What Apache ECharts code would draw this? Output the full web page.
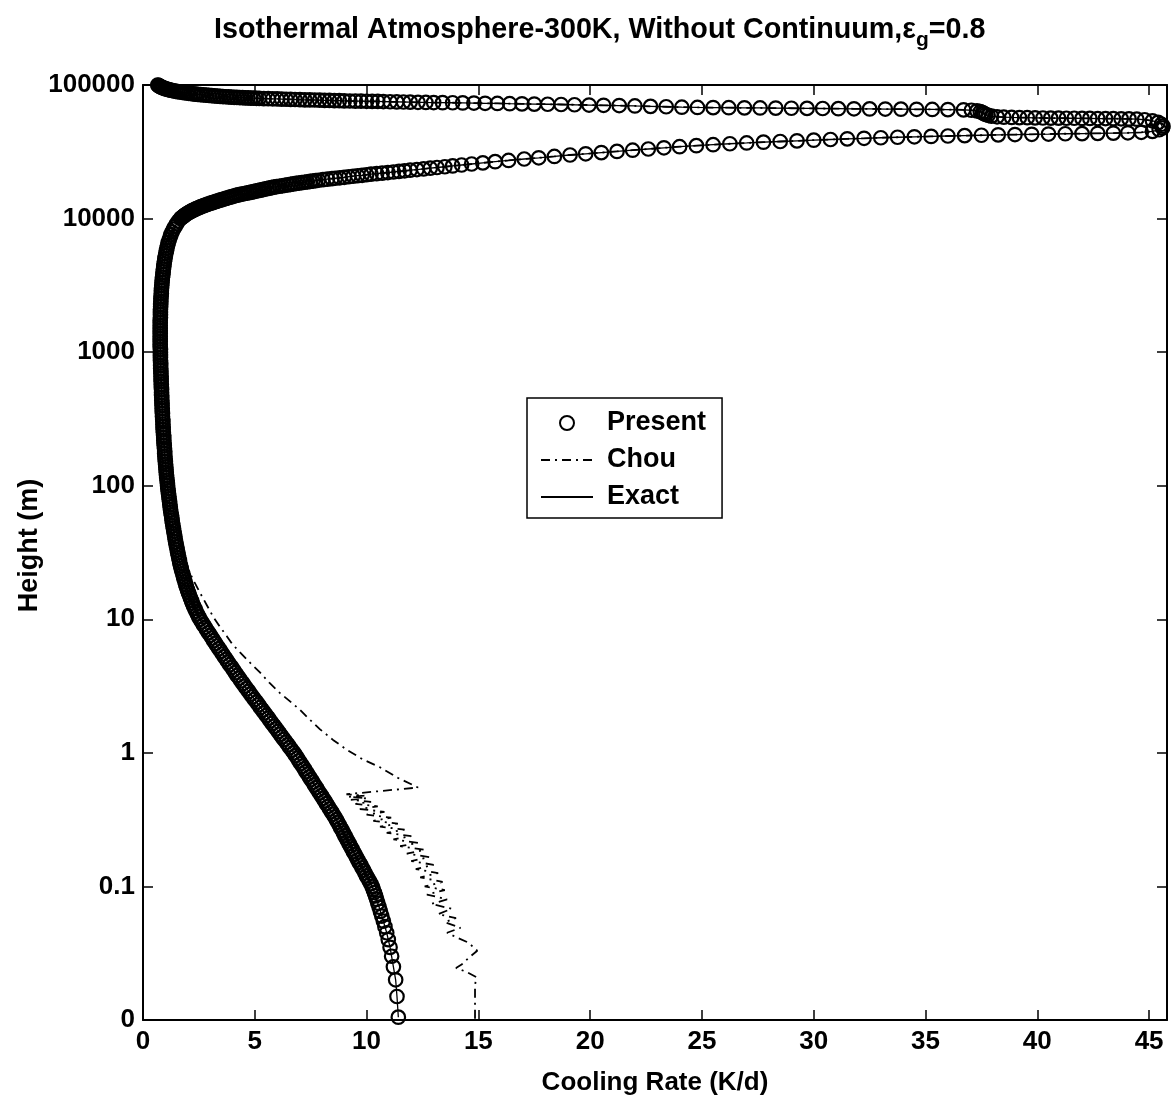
<!DOCTYPE html>
<html>
<head>
<meta charset="utf-8">
<title>Isothermal Atmosphere - Cooling Rate Profile</title>
<script src="https://cdn.jsdelivr.net/npm/echarts@6/dist/echarts.min.js"></script>
<style>
  html, body { margin: 0; padding: 0; background: #fff; }
  #chart { width: 1171px; height: 1101px; }
</style>
</head>
<body>
<div id="chart"></div>
<script>
// ---- Data: [cooling rate (K/d), height (m)] ----

// "Present" profile, closest to the surface
const surfaceRows = [
  [11.42,0.0105],[11.36,0.015],[11.30,0.02],[11.2,0.025],[11.12,0.03],[11.05,0.035],[10.97,0.04],
  [10.9,0.045],[10.82,0.05],[10.75,0.055],[10.68,0.06],[10.62,0.065],[10.56,0.07],[10.5,0.075],
  [10.45,0.08],[10.4,0.085],[10.35,0.09],[10.3,0.095],[10.25,0.1]
];

// "Present" profile from 0.1 m to 10 km
const lowerProfile = [
  [10.19,0.105],[10.12,0.11],[10.06,0.115],[9.99,0.12],[9.93,0.126],[9.87,0.132],[9.80,0.138],[9.74,0.145],[9.67,0.151],[9.61,0.158],
  [9.54,0.166],[9.48,0.174],[9.41,0.182],[9.35,0.191],[9.28,0.2],[9.22,0.209],[9.16,0.219],[9.09,0.229],[9.03,0.24],[8.97,0.251],
  [8.91,0.263],[8.84,0.275],[8.78,0.288],[8.71,0.302],[8.65,0.316],[8.58,0.331],[8.50,0.347],[8.43,0.363],[8.35,0.38],[8.28,0.398],
  [8.20,0.417],[8.13,0.437],[8.05,0.457],[7.98,0.479],[7.90,0.501],[7.82,0.525],[7.75,0.55],[7.67,0.575],[7.60,0.603],[7.52,0.631],
  [7.44,0.661],[7.37,0.692],[7.29,0.724],[7.22,0.759],[7.14,0.794],[7.06,0.832],[6.98,0.871],[6.91,0.912],[6.83,0.955],[6.75,1.0],
  [6.66,1.047],[6.57,1.096],[6.49,1.148],[6.40,1.202],[6.31,1.259],[6.22,1.318],[6.13,1.38],[6.05,1.445],[5.96,1.514],[5.87,1.585],
  [5.78,1.66],[5.69,1.738],[5.61,1.82],[5.52,1.905],[5.43,1.995],[5.34,2.089],[5.25,2.188],[5.17,2.291],[5.08,2.399],[4.99,2.512],
  [4.90,2.63],[4.81,2.754],[4.73,2.884],[4.64,3.02],[4.55,3.162],[4.47,3.311],[4.38,3.467],[4.30,3.631],[4.21,3.802],[4.13,3.981],
  [4.05,4.169],[3.97,4.365],[3.88,4.571],[3.80,4.786],[3.72,5.012],[3.64,5.248],[3.56,5.495],[3.48,5.754],[3.40,6.026],[3.32,6.31],
  [3.24,6.607],[3.16,6.918],[3.09,7.244],[3.01,7.586],[2.93,7.943],[2.85,8.318],[2.78,8.71],[2.70,9.12],[2.63,9.55],[2.55,10],
  [2.49,10.47],[2.43,10.96],[2.37,11.48],[2.32,12.02],[2.26,12.59],[2.21,13.18],[2.17,13.8],[2.12,14.45],[2.08,15.14],[2.03,15.85],
  [1.99,16.6],[1.95,17.38],[1.91,18.2],[1.88,19.05],[1.84,19.95],[1.81,20.89],[1.78,21.88],[1.74,22.91],[1.71,23.99],[1.68,25.12],
  [1.65,26.3],[1.63,27.54],[1.60,28.84],[1.58,30.2],[1.55,31.62],[1.53,33.11],[1.51,34.67],[1.48,36.31],[1.46,38.02],[1.44,39.81],
  [1.42,41.69],[1.40,43.65],[1.38,45.71],[1.36,47.86],[1.34,50.12],[1.32,52.48],[1.30,54.95],[1.29,57.54],[1.27,60.26],[1.25,63.1],
  [1.23,66.07],[1.22,69.18],[1.20,72.44],[1.19,75.86],[1.17,79.43],[1.16,83.18],[1.14,87.1],[1.13,91.2],[1.11,95.5],[1.10,100],
  [1.09,104.7],[1.08,109.6],[1.06,114.8],[1.05,120.2],[1.04,125.9],[1.03,131.8],[1.02,138],[1.01,144.5],[1.00,151.4],[0.99,158.5],
  [0.98,166],[0.97,173.8],[0.97,182],[0.96,190.5],[0.95,199.5],[0.94,208.9],[0.93,218.8],[0.93,229.1],[0.92,239.9],[0.91,251.2],
  [0.90,263],[0.90,275.4],[0.89,288.4],[0.89,302],[0.88,316.2],[0.87,331.1],[0.87,346.7],[0.86,363.1],[0.86,380.2],[0.85,398.1],
  [0.85,416.9],[0.84,436.5],[0.84,457.1],[0.83,478.6],[0.83,501.2],[0.83,524.8],[0.82,549.5],[0.82,575.4],[0.81,602.6],[0.81,631],
  [0.81,660.7],[0.80,691.8],[0.80,724.4],[0.79,758.6],[0.79,794.3],[0.79,831.8],[0.78,871],[0.78,912],[0.78,955],[0.78,1000],
  [0.78,1047],[0.77,1096],[0.77,1148],[0.77,1202],[0.77,1259],[0.77,1318],[0.77,1380],[0.77,1445],[0.77,1514],[0.77,1585],
  [0.77,1660],[0.77,1738],[0.78,1820],[0.78,1905],[0.78,1995],[0.78,2089],[0.79,2188],[0.79,2291],[0.80,2399],[0.80,2512],
  [0.81,2630],[0.82,2754],[0.82,2884],[0.83,3020],[0.84,3162],[0.85,3311],[0.86,3467],[0.87,3631],[0.89,3802],[0.90,3981],
  [0.91,4169],[0.93,4365],[0.94,4571],[0.96,4786],[0.98,5012],[1.00,5248],[1.02,5495],[1.05,5754],[1.07,6026],[1.10,6310],
  [1.13,6607],[1.17,6918],[1.21,7244],[1.25,7586],[1.30,7943],[1.36,8318],[1.43,8710],[1.50,9120],[1.58,9550],[1.68,10000]
];

// "Present" profile, lower branch of the upper-atmosphere loop
const lowerBranch = [
  [1.72,10140],[1.77,10280],[1.815,10420],[1.86,10570],[1.91,10720],[1.96,10870],[2.015,11000],[2.07,11140],[2.125,11270],[2.18,11400],
  [2.24,11530],[2.3,11670],[2.365,11800],[2.43,11940],[2.5,12080],[2.57,12220],[2.645,12360],[2.72,12500],[2.795,12630],[2.87,12760],
  [2.95,12900],[3.03,13030],[3.11,13170],[3.19,13300],[3.275,13440],[3.36,13580],[3.445,13720],[3.53,13870],[3.62,14010],[3.71,14160],
  [3.8,14300],[3.89,14450],[3.98,14600],[4.07,14760],[4.165,14900],[4.26,15030],[4.355,15160],[4.45,15280],[4.55,15400],[4.65,15520],
  [4.75,15650],[4.85,15780],[4.95,15920],[5.05,16070],[5.15,16200],[5.25,16330],[5.35,16480],[5.45,16630],[5.55,16760],[5.65,16900],
  [5.75,17040],[5.85,17180],[5.975,17320],[6.1,17460],[6.225,17600],[6.35,17740],[6.475,17880],[6.6,18030],[6.725,18170],[6.85,18320],
  [6.975,18450],[7.1,18580],[7.225,18710],[7.35,18840],[7.475,18970],[7.6,19100],[7.725,19230],[7.85,19360],[8.05,19550],[8.25,19730],
  [8.45,19910],[8.6,20040],[8.8,20200],[9.0,20370],[9.2,20560],[9.4,20750],[9.6,20930],[9.8,21090],[10.0,21280],[10.2,21480],
  [10.45,21680],[10.7,21890],[10.95,22110],[11.2,22320],[11.45,22550],[11.7,22780],[11.95,23020],[12.25,23280],[12.55,23540],[12.85,23830],
  [13.15,24120],[13.5,24430],[13.85,24790],[14.25,25190],[14.7,25620],[15.2,26120],[15.75,26680],[16.35,27240],[17.05,27930],[17.7,28510],
  [18.4,29170],[19.1,29920],[19.8,30550],[20.5,31190],[21.2,31840],[21.9,32510],[22.6,33190],[23.3,33880],[24.0,34510],[24.75,35160],
  [25.5,35730],[26.25,36310],[27.0,36810],[27.75,37330],[28.5,37760],[29.25,38190],[30.0,38640],[30.75,39080],[31.5,39540],[32.25,39900],
  [33.0,40270],[33.75,40640],[34.5,40930],[35.25,41210],[36.0,41500],[36.75,41780],[37.5,42070],[38.25,42360],[39.0,42560],[39.75,42760],
  [40.5,42950],[41.25,43150],[42.0,43250],[42.7,43450],[43.4,43650],[44.05,43850],[44.65,44260],[45.15,44980],[45.45,46240],[45.6,47640],
  [45.62,49200],[45.55,50820],[45.4,52480],[45.15,53950],[44.8,54950]
];

// "Present" profile, upper branch of the loop back to the top of the domain
const upperBranch = [
  [44.45,55460],[44.1,55720],[43.75,55850],[43.4,55980],[43.05,56100],[42.7,56100],[42.35,56230],[42.0,56230],[41.65,56360],[41.3,56360],
  [40.95,56490],[40.6,56490],[40.25,56620],[39.9,56750],[39.55,56890],[39.2,57020],[38.85,57150],[38.5,57410],[38.2,57810],[37.95,58480],
  [37.8,59290],[37.7,60120],[37.62,61090],[37.55,62090],[37.45,63100],[37.3,63970],[37.05,64710],[36.7,65160],[36.0,65460],[35.3,65610],
  [34.6,65770],[33.9,65920],[33.2,66070],[32.5,66220],[31.8,66370],[31.1,66530],[30.4,66680],[29.7,66830],[29.0,66990],[28.3,67140],
  [27.6,67300],[26.9,67450],[26.2,67610],[25.5,67760],[24.8,67920],[24.1,68230],[23.4,68710],[22.7,69180],[22.0,69660],[21.3,70150],
  [20.6,70470],[19.95,70790],[19.3,71120],[18.7,71450],[18.1,71780],[17.5,71940],[16.95,72280],[16.4,72440],[15.85,72780],[15.3,72950],
  [14.8,73280],[14.3,73450],[13.85,73610],[13.4,73770],[13.0,73920],[12.65,74040],[12.3,74200],[11.95,74470],[11.65,74620],[11.35,74750],
  [11.05,74920],[10.75,75170],[10.5,75300],[10.25,75420],[10.0,75530],[9.75,75660],[9.5,75780],[9.25,75900],[9.0,76030],[8.78,76280],
  [8.56,76450],[8.34,76590],[8.12,76730],[7.9,76970],[7.68,77200],[7.46,77290],[7.24,77420],[7.02,77700],[6.8,77900],[6.6,78050],
  [6.4,78190],[6.2,78340],[6.0,78620],[5.8,78820],[5.6,78950],[5.4,79120],[5.2,79430],[5.075,79520],[4.95,79620],[4.825,79800],
  [4.7,79980],[4.575,80160],[4.45,80350],[4.325,80530],[4.2,80720],[4.075,80910],[3.95,81100],[3.825,81380],[3.7,81660],[3.575,81940],
  [3.45,82220],[3.325,82500],[3.2,82790],[3.075,83170],[2.95,83560],[2.825,83940],[2.7,84330],[2.575,84720],[2.45,85110],[2.35,85500],
  [2.25,85900],[2.15,86300],[2.05,86700],[1.95,87200],[1.85,87700],[1.75,88210],[1.65,88720],[1.56,89230],[1.47,89740],[1.385,90360],
  [1.3,90990],[1.225,91620],[1.15,92260],[1.085,92900],[1.02,93540],[0.96,94300],[0.9,95060],[0.85,95940],[0.8,96830],[0.76,97610],
  [0.72,98400],[0.69,99200],[0.66,100000]
];

// "Chou" scheme near the surface (oscillating solution)
const chouNearSurface = [
  [14.85,0.0102],[14.85,0.018],[14.9,0.021],[14.45,0.023],[14.0,0.0245],[14.25,0.026],[14.55,0.029],[14.95,0.033],[14.55,0.038],[14.1,0.041],
  [13.6,0.045],[14.2,0.049],[13.5,0.054],[14.0,0.058],[13.2,0.062],[13.8,0.068],[12.9,0.074],[13.6,0.08],[12.7,0.087],[13.5,0.094],
  [12.6,0.1],[13.4,0.108],[12.4,0.117],[13.2,0.126],[12.2,0.135],[13.0,0.145],[12.0,0.155],[12.8,0.166],[11.8,0.176],[12.6,0.188],
  [11.5,0.2],[12.3,0.212],[11.2,0.225],[12.0,0.238],[10.9,0.252],[11.7,0.266],[10.6,0.28],[11.4,0.295],[10.3,0.31],[11.1,0.327],
  [10.0,0.345],[10.8,0.362],[9.7,0.38],[10.5,0.398],[9.5,0.415],[10.2,0.43],[9.3,0.445],[10.0,0.458],[9.2,0.468],[9.9,0.478],
  [9.1,0.49]
];

// "Chou" scheme, smooth part until it rejoins the other profiles
const chouMid = [
  [12.3,0.55],[11.4,0.65],[10.6,0.78],[9.8,0.9],[9.1,1.06],[8.5,1.25],[7.92,1.5],[7.45,1.78],[7.02,2.1],[6.55,2.45],
  [6.13,2.8],[5.65,3.35],[5.23,4.0],[4.75,4.8],[4.34,5.65],[4.0,6.5],[3.74,7.5],[3.4,9.0],[3.13,10.5],[2.85,12.8],
  [2.55,15.8],[2.3,19],[2.05,23],[1.75,27]
];

// Axis ticks
const rateTicks = [0, 5, 10, 15, 20, 25, 30, 35, 40, 45];
const heightTicks = [0.01, 0.1, 1, 10, 100, 1000, 10000, 100000];
const heightTickText = ['0', '0.1', '1', '10', '100', '1000', '10000', '100000'];

// ---- Series assembly ----
const presentData = [].concat(surfaceRows, lowerProfile, lowerBranch, upperBranch);
// The exact solution is indistinguishable from the present scheme at this scale
const exactData = presentData;
const chouData = [].concat(chouNearSurface, chouMid, presentData.filter(p => p[1] > 28));

const FONT = '"Liberation Sans", Arial, Helvetica, sans-serif';
const INK = '#000';

function heightLabel(v) {
  const i = heightTicks.findIndex(t => Math.abs(Math.log10(t) - Math.log10(v)) < 1e-6);
  return i >= 0 ? heightTickText[i] : '';
}
function rateLabel(v) {
  return rateTicks.indexOf(Math.round(v * 1000) / 1000) >= 0 ? String(v) : '';
}

const frameLine = { show: true, onZero: false, lineStyle: { color: INK, width: 2 } };
const innerTick = { show: true, inside: true, length: 10, lineStyle: { color: INK, width: 1.5 } };
const tickFont = { color: INK, fontSize: 26, fontWeight: 'bold', fontFamily: FONT };

const chart = echarts.init(document.getElementById('chart'), null, { renderer: 'canvas' });

chart.setOption({
  animation: false,
  backgroundColor: '#fff',
  title: {
    text: 'Isothermal Atmosphere-300K, Without Continuum,{eps|ε}{sub|g}{eps|=0.8}',
    left: 209,
    top: 5,
    textStyle: {
      color: INK, fontSize: 28.7, fontWeight: 'bold', fontFamily: FONT,
      rich: {
        eps: { color: INK, fontSize: 28.7, fontWeight: 'bold', fontFamily: FONT },
        sub: { color: INK, fontSize: 21, fontWeight: 'bold', fontFamily: FONT, padding: [20, 0, 0, 0] }
      }
    }
  },
  grid: { left: 143, right: 4, top: 85, bottom: 80, containLabel: false },
  legend: {
    orient: 'vertical',
    left: 527,
    top: 398,
    padding: [10, 16, 6, 13],
    itemGap: 7,
    itemWidth: 52,
    itemHeight: 14,
    backgroundColor: '#fff',
    borderColor: INK,
    borderWidth: 1.5,
    selectedMode: false,
    data: [
      { name: 'Present' },
      { name: 'Chou', itemStyle: { opacity: 0 } },
      { name: 'Exact', itemStyle: { opacity: 0 } }
    ],
    textStyle: { color: INK, fontSize: 27, fontWeight: 'bold', fontFamily: FONT, lineHeight: 30, padding: [0, 0, 0, 9] }
  },
  xAxis: [
    {
      type: 'value', position: 'bottom', min: 0, max: 45.8, interval: 5,
      axisLine: frameLine, axisTick: innerTick, splitLine: { show: false },
      axisLabel: Object.assign({ margin: 9, showMaxLabel: false, formatter: rateLabel }, tickFont),
      name: 'Cooling Rate (K/d)', nameLocation: 'middle', nameGap: 50,
      nameTextStyle: { color: INK, fontSize: 26, fontWeight: 'bold', fontFamily: FONT }
    },
    {
      type: 'value', position: 'top', min: 0, max: 45.8, interval: 5,
      axisLine: frameLine, axisTick: innerTick, splitLine: { show: false },
      axisLabel: { show: false }
    }
  ],
  yAxis: [
    {
      type: 'log', logBase: 10, position: 'left', min: 0.01, max: 100000,
      axisLine: frameLine, axisTick: innerTick, splitLine: { show: false }, minorTick: { show: false },
      axisLabel: Object.assign({ margin: 8, formatter: heightLabel }, tickFont),
      name: 'Height (m)', nameLocation: 'middle', nameGap: 100, nameMoveOverlap: false,
      nameTextStyle: { color: INK, fontSize: 27, fontWeight: 'bold', fontFamily: FONT, padding: [0, 0, 0, 14] }
    },
    {
      type: 'log', logBase: 10, position: 'right', min: 0.01, max: 100000,
      axisLine: frameLine, axisTick: innerTick, splitLine: { show: false },
      axisLabel: { show: false }
    }
  ],
  series: [
    {
      name: 'Present',
      type: 'scatter',
      xAxisIndex: 0, yAxisIndex: 0,
      data: presentData,
      symbol: 'circle',
      symbolSize: 13.5,
      itemStyle: { color: 'rgba(0,0,0,0)', borderColor: INK, borderWidth: 2.2, opacity: 1 },
      emphasis: { disabled: true },
      silent: true,
      z: 2
    },
    {
      name: 'Chou',
      type: 'line',
      xAxisIndex: 0, yAxisIndex: 0,
      data: chouData,
      symbol: 'none',
      lineStyle: { color: INK, width: 1.8, type: [9, 5, 2, 5] },
      itemStyle: { color: INK },
      emphasis: { disabled: true },
      silent: true,
      z: 3
    },
    {
      name: 'Exact',
      type: 'line',
      xAxisIndex: 0, yAxisIndex: 0,
      data: exactData,
      symbol: 'none',
      lineStyle: { color: INK, width: 1.3, type: 'solid' },
      itemStyle: { color: INK },
      emphasis: { disabled: true },
      silent: true,
      z: 4
    }
  ]
});
</script>
</body>
</html>
